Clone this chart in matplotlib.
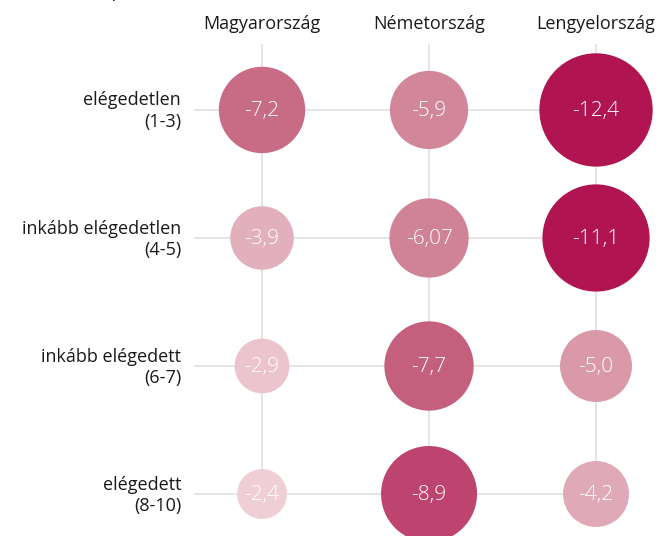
import numpy as np
import matplotlib.pyplot as plt
from matplotlib.colors import LinearSegmentedColormap

plt.rcParams['font.family'] = ['Open Sans', 'DejaVu Sans']

countries = ["Magyarország", "Németország", "Lengyelország"]
groups = ["elégedetlen\n(1-3)", "inkább elégedetlen\n(4-5)",
          "inkább elégedett\n(6-7)", "elégedett\n(8-10)"]
# rows = groups, columns = countries
values = [[-7.2, -5.9, -12.4],
          [-3.9, -6.07, -11.1],
          [-2.9, -7.7, -5.0],
          [-2.4, -8.9, -4.2]]
value_labels = [["-7,2", "-5,9", "-12,4"],
                ["-3,9", "-6,07", "-11,1"],
                ["-2,9", "-7,7", "-5,0"],
                ["-2,4", "-8,9", "-4,2"]]
subtitle = "Változás, %-pont"

vals = np.array(values)
ncol = len(countries)
nrow = len(groups)

fig = plt.figure(figsize=(6.68, 5.36), dpi=100)
ax = fig.add_axes([0, 0, 1, 1])
ax.set_xlim(-1.569, 2.431)
ax.set_ylim(3.328, -0.859)
ax.axis('off')

# light grid connecting the bubbles
for i in range(ncol):
    ax.plot([i, i], [-0.508, nrow - 1], color='#dedede', lw=1.1, zorder=1)
for j in range(nrow):
    ax.plot([-0.401, ncol - 1], [j, j], color='#dedede', lw=1.1, zorder=1)

# bubble area ~ |value|, shade from pale rose to deep raspberry
cmap = LinearSegmentedColormap.from_list(
    'rose', [(0, '#f2d6dd'), (0.5, '#cc7a8e'), (1, '#b01552')])
xx, yy = np.meshgrid(np.arange(ncol), np.arange(nrow))
mag = np.abs(vals)
colors = cmap(np.clip((mag - 2) / 9, 0, 1))
ax.scatter(xx.ravel(), yy.ravel(), s=537 * mag.ravel(),
           c=colors.reshape(-1, 4), edgecolors='none', zorder=2)

for j in range(nrow):
    for i in range(ncol):
        ax.text(i, j + 0.005, value_labels[j][i], ha='center', va='center',
                color='white', fontsize=15, fontweight='light', zorder=3)

for i, c in enumerate(countries):
    ax.text(i, -0.672, c, ha='center', va='center', fontsize=13,
            color='#1a1a1a')

for j, g in enumerate(groups):
    ax.text(-0.485, j + 0.01, g, ha='right', va='center', fontsize=13,
            color='#1a1a1a', linespacing=1.25)

ax.text(-1.5, -0.88, subtitle, ha='left', va='baseline', fontsize=13,
        color='#1a1a1a')

fig.savefig('out.png', dpi=100)
